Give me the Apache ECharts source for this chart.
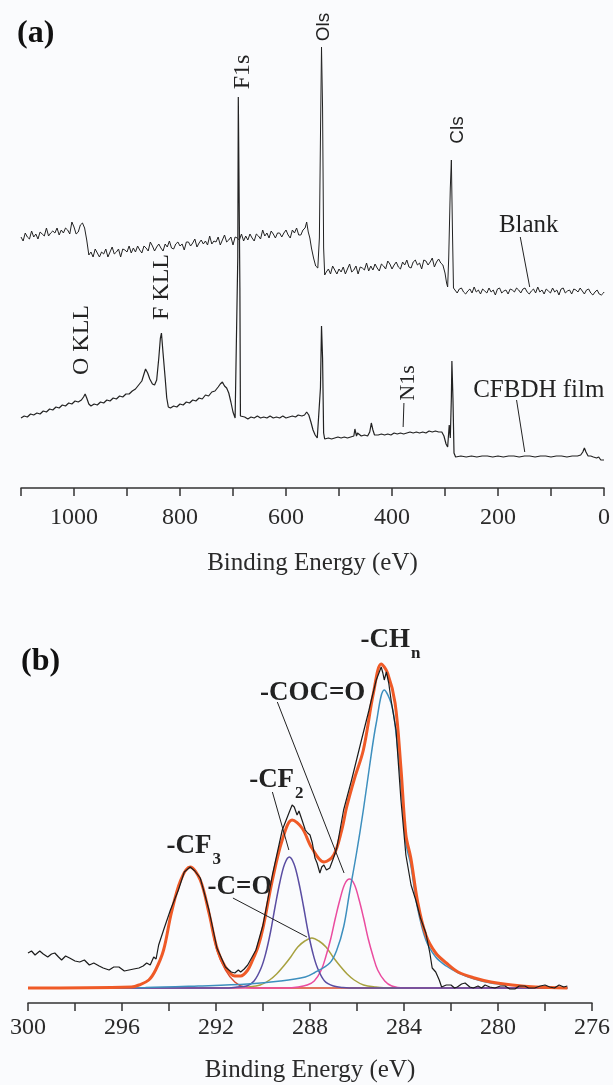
<!DOCTYPE html>
<html><head><meta charset="utf-8">
<script src="https://cdn.jsdelivr.net/npm/echarts@6/dist/echarts.min.js"></script>
<style>html,body{margin:0;padding:0;background:#fafbfd;}#c{width:613px;height:1085px;}</style>
</head><body><div id="c"></div>
<script>
// ---------- DATA (panel a: survey spectra, [binding energy eV, intensity a.u.]) ----------
const surveyTickLabels = [1000, 800, 600, 400, 200, 0];
const blankSpectrum = [[1100,251],[1096,247],[1092,255],[1088,251],[1084,249],[1080,257],[1076,251],[1072,254],[1068,249],[1064,256],[1060,254],[1056,252],[1052,260],[1048,252],[1044,255],[1040,257],[1036,255],[1032,260],[1028,253],[1024,258],[1020,255],[1016,260],[1012,258],[1008,254],[1004,266],[1000,261],[996,254],[992,256],[988,263],[984,265],[980,260],[976,248],[972,233],[968,236],[964,231],[960,239],[956,235],[952,231],[948,236],[944,234],[940,239],[936,231],[932,236],[928,241],[924,234],[920,236],[916,239],[912,231],[908,239],[904,238],[900,236],[896,242],[892,235],[888,240],[884,236],[880,242],[876,238],[872,235],[868,242],[864,240],[860,237],[856,246],[852,242],[848,237],[844,241],[840,244],[836,240],[832,237],[828,244],[824,241],[820,247],[816,240],[812,239],[808,244],[804,246],[800,242],[796,244],[792,238],[788,246],[784,246],[780,242],[776,245],[772,249],[768,241],[764,245],[760,248],[756,244],[752,247],[748,243],[744,252],[740,244],[736,247],[732,246],[728,251],[724,243],[720,248],[716,253],[712,246],[708,248],[704,251],[700,243],[696,251],[692,250],[688,248],[684,254],[680,247],[676,252],[672,248],[668,254],[664,250],[660,247],[656,254],[652,252],[648,249],[644,258],[640,252],[636,255],[632,250],[628,257],[624,254],[620,250],[616,255],[612,255],[608,251],[604,255],[600,258],[596,253],[592,250],[588,258],[584,255],[580,260],[576,253],[572,253],[568,258],[564,260],[561,266],[558,256],[555,250],[552,240],[548,230],[544,222],[540,220],[537,250],[535,350],[533,441],[531,380],[529,240],[527,213],[524,216],[520,219],[516,214],[512,222],[508,218],[504,214],[500,219],[496,216],[492,221],[488,214],[484,219],[480,224],[476,216],[472,218],[468,222],[464,214],[460,221],[456,220],[452,218],[448,225],[444,217],[440,222],[436,218],[432,224],[428,220],[424,217],[420,224],[416,222],[412,219],[408,227],[404,224],[400,219],[396,223],[392,226],[388,221],[384,219],[380,226],[376,223],[372,228],[368,221],[364,220],[360,226],[356,228],[352,223],[348,225],[344,219],[340,228],[336,227],[332,223],[328,226],[324,230],[320,221],[316,226],[312,229],[308,225],[304,223],[300,215],[297,205],[295,201],[293,230],[290,300],[288,328],[286,260],[284,200],[281,198],[277,195],[273,199],[269,200],[265,196],[261,194],[257,197],[253,199],[249,195],[245,201],[241,196],[237,198],[233,194],[229,199],[225,197],[221,195],[217,200],[213,196],[209,198],[205,193],[201,199],[197,200],[193,195],[189,197],[185,198],[181,194],[177,199],[173,198],[169,196],[165,200],[161,198],[157,195],[153,199],[149,200],[145,196],[141,194],[137,197],[133,199],[129,195],[125,201],[121,196],[117,198],[113,194],[109,199],[105,197],[101,195],[97,200],[93,196],[89,198],[85,193],[81,199],[77,200],[73,195],[69,197],[65,198],[61,194],[57,199],[53,198],[49,196],[45,200],[41,197],[37,194],[33,198],[29,199],[25,195],[21,193],[17,196],[13,198],[9,194],[5,193],[1,195],[0,196]];
const filmSpectrum = [[1100,70],[1094,72],[1088,71],[1082,74],[1076,73],[1070,75],[1064,74],[1058,77],[1052,76],[1046,79],[1040,78],[1034,81],[1028,80],[1022,83],[1016,82],[1010,85],[1004,84],[998,87],[992,86],[986,88],[982,91],[979,94],[976,90],[972,84],[968,82],[962,84],[956,83],[950,86],[944,85],[938,88],[932,87],[926,90],[920,89],[914,92],[908,91],[902,94],[896,94],[890,97],[884,99],[878,103],[872,107],[868,114],[865,119],[861,115],[857,109],[852,104],[848,103],[844,108],[840,130],[837,150],[835,155],[832,135],[828,110],[825,90],[822,81],[818,80],[812,82],[806,81],[800,84],[794,83],[788,86],[782,85],[776,88],[770,87],[764,90],[758,89],[752,93],[746,92],[740,96],[734,97],[728,101],[724,104],[720,106],[716,102],[712,100],[708,95],[704,86],[700,76],[696,70],[693,72],[691,230],[690,391],[689,391],[687,200],[686,72],[684,70],[678,71],[672,69],[666,71],[660,70],[654,72],[648,70],[642,71],[636,70],[630,72],[624,70],[618,71],[612,70],[606,72],[600,70],[594,71],[588,72],[582,71],[577,73],[570,72],[565,73],[561,76],[557,73],[553,66],[549,58],[545,53],[541,50],[538,52],[535,100],[533,162],[531,130],[529,55],[527,49],[520,50],[514,49],[508,50],[502,51],[496,50],[490,51],[484,50],[478,51],[472,52],[470,59],[467,52],[465,55],[462,53],[458,52],[452,53],[446,52],[442,56],[439,65],[436,58],[433,53],[426,53],[420,54],[414,53],[408,54],[402,53],[396,55],[390,54],[384,55],[378,54],[372,55],[366,56],[360,55],[354,56],[348,55],[342,56],[336,55],[330,57],[324,56],[318,57],[312,56],[306,56],[302,52],[298,44],[295,41],[292,63],[290,50],[288,90],[287,127],[285,90],[283,35],[280,31],[270,32],[260,31],[250,32],[240,31],[230,32],[220,32],[210,31],[200,32],[190,31],[180,32],[170,32],[160,31],[150,32],[140,32],[130,31],[120,32],[110,32],[100,31],[90,32],[80,32],[70,31],[60,32],[50,32],[44,33],[40,36],[37,40],[34,36],[30,32],[25,32],[20,31],[14,30],[10,31],[6,28],[0,28]];

// ---------- DATA (panel b: C1s high-resolution spectrum and fitted components) ----------
const c1sTickLabels = [300, 296, 292, 288, 284, 280, 276];
const c1sRaw = [[300.0,50],[299.85,52],[299.7,48],[299.5,52],[299.35,49],[299.16,46],[299.0,49],[298.86,50],[298.7,46],[298.57,43],[298.4,47],[298.23,45],[298.0,42],[297.8,41],[297.6,43],[297.39,38],[297.2,40],[296.97,37],[296.8,35],[296.55,33],[296.35,36],[296.13,36],[295.9,32],[295.7,33],[295.5,34],[295.28,35],[295.1,37],[294.95,40],[294.8,38],[294.65,46],[294.55,44],[294.44,58],[294.23,73],[293.94,93],[293.6,113],[293.35,131],[293.1,136],[292.9,132],[292.67,125],[292.3,93],[291.96,55],[291.6,36],[291.35,31],[291.2,30],[291.05,33],[290.95,31],[290.8,34],[290.65,38],[290.3,53],[290.0,78],[289.6,128],[289.18,173],[288.88,191],[288.76,198],[288.67,196],[288.55,188],[288.47,192],[288.34,183],[288.2,173],[288.1,170],[288.0,168],[287.9,160],[287.79,145],[287.7,140],[287.58,130],[287.5,136],[287.41,138],[287.3,133],[287.16,135],[287.0,145],[286.86,155],[286.57,193],[286.23,223],[285.81,263],[285.5,292],[285.39,303],[285.18,323],[284.97,336],[284.9,330],[284.84,323],[284.75,331],[284.65,320],[284.55,303],[284.34,273],[284.13,203],[283.92,148],[283.7,118],[283.5,103],[283.3,85],[283.07,70],[282.9,50],[282.8,35],[282.65,31],[282.5,23],[282.4,16],[282.2,18],[282.0,18],[281.85,15],[281.73,16],[281.55,19],[281.4,20],[281.2,16],[281.05,15],[280.85,17],[280.7,15],[280.55,18],[280.35,16],[280.13,15],[279.9,17],[279.7,17],[279.5,14],[279.28,14],[279.1,17],[278.86,17],[278.7,15],[278.44,15],[278.2,17],[278.0,18],[277.8,16],[277.6,15],[277.4,18],[277.2,16],[277.05,17]];
const fitEnvelope = [[300,15],[295.6,16],[295.28,18],[294.86,23],[294.57,33],[294.23,53],[293.9,90],[293.5,123],[293.1,136],[292.67,123],[292.3,90],[291.96,55],[291.6,36],[291.2,27],[290.95,27],[290.65,33],[290.44,43],[290.2,57],[290.0,75],[289.6,123],[289.18,163],[288.76,183],[288.34,175],[287.92,155],[287.4,141],[286.99,148],[286.65,173],[286.44,196],[286.1,225],[285.73,253],[285.3,310],[284.97,339],[284.7,330],[284.38,300],[284.13,235],[283.92,168],[283.71,145],[283.41,100],[283.07,68],[282.65,50],[282.2,40],[281.7,31],[281.0,25],[280.3,21],[279.4,18],[278.4,16],[277.05,15]];
const compCF3 = [[300,15],[295.6,15],[295.28,18],[294.86,23],[294.57,33],[294.23,53],[293.9,90],[293.5,123],[293.1,136],[292.67,123],[292.3,90],[291.96,53],[291.6,33],[291.2,21],[290.8,16],[290.2,15],[277.05,15]];
const compCF2 = [[300,15],[291.6,15],[291.1,16],[290.7,17],[290.38,22],[290.08,35],[289.88,50],[289.68,71],[289.48,97],[289.28,121],[289.08,139],[288.88,146],[288.68,139],[288.48,121],[288.28,97],[288.08,71],[287.88,50],[287.68,35],[287.38,22],[287.0,17],[286.6,15.5],[286.0,15],[277.05,15]];
const compCO = [[300,15],[291.2,15],[290.7,16],[290.12,18],[289.72,23],[289.42,29],[289.12,37],[288.82,46],[288.52,56],[288.22,62],[287.92,65],[287.62,62],[287.32,56],[287.02,46],[286.72,37],[286.42,29],[286.12,23],[285.72,18],[285.2,16],[284.6,15],[277.05,15]];
const compCOCO = [[300,15],[289.0,15],[288.5,16],[288.12,18],[287.82,22],[287.52,33],[287.32,47],[287.12,64],[286.92,85],[286.72,104],[286.52,119],[286.32,124],[286.12,119],[285.92,104],[285.72,85],[285.52,64],[285.32,47],[285.12,33],[284.82,22],[284.52,17],[284.0,15],[277.05,15]];
const compCHn = [[300,15],[295,15.5],[292.76,17],[290.65,19],[289.26,22],[288.2,26],[287.83,30],[287.16,40],[286.86,53],[286.57,76],[286.32,110],[286.02,150],[285.73,193],[285.47,236],[285.18,280],[284.84,313],[284.55,300],[284.38,278],[284.13,220],[283.92,160],[283.71,138],[283.45,98],[283.07,63],[282.65,46],[282.2,37],[281.68,30],[281.0,24],[280.3,20],[279.4,18],[278.4,16],[277.05,15]];

// ---------- STYLE / LAYOUT ----------
const SERIF = 'Liberation Serif';
const SANS = 'Liberation Sans';
const INK = '#222';
const chart = echarts.init(document.getElementById('c'), null, {renderer: 'canvas'});

function line(data, xi, color, width, smooth, z, extra) {
  return Object.assign({
    type: 'line', xAxisIndex: xi, yAxisIndex: xi, data: data, showSymbol: false, symbol: 'none',
    smooth: smooth, lineStyle: {color: color, width: width}, z: z, silent: true, animation: false
  }, extra || {});
}
function arrows(list) {
  return {
    silent: true, animation: false, symbol: ['none', 'arrow'], symbolSize: [0, 9],
    lineStyle: {color: INK, width: 1, type: 'solid'}, label: {show: false},
    data: list.map(a => [{coord: a[0]}, {coord: a[1]}])
  };
}
function xAxis(gi, min, max, step, labels, gap, margin) {
  return {
    type: 'value', gridIndex: gi, min: min, max: max, inverse: true, interval: step,
    axisLine: {show: true, onZero: false, lineStyle: {color: '#333', width: 1.5}},
    axisTick: {show: true, length: 8, lineStyle: {color: '#333', width: 1.5}},
    splitLine: {show: false},
    axisLabel: {margin: margin, color: '#2a2a2a', fontFamily: SERIF, fontSize: 24, showMinLabel: true, showMaxLabel: true,
      formatter: v => labels.indexOf(Math.round(v)) >= 0 ? String(Math.round(v)) : ''},
    name: 'Binding Energy (eV)', nameLocation: 'middle', nameGap: gap,
    nameTextStyle: {color: '#2a2a2a', fontFamily: SERIF, fontSize: 25}
  };
}

chart.setOption({
  backgroundColor: '#fafbfd',
  animation: false,
  textStyle: {fontFamily: SERIF},
  grid: [
    {left: 21, right: 3, top: 8, height: 480},
    {left: 28, right: 15, top: 653, height: 350}
  ],
  xAxis: [xAxis(0, 0, 1100, 100, surveyTickLabels, 63, 18), xAxis(1, 276, 300, 2, c1sTickLabels, 55, 13)],
  yAxis: [
    {type: 'value', gridIndex: 0, min: 0, max: 480, show: false},
    {type: 'value', gridIndex: 1, min: 0, max: 350, show: false}
  ],
  series: [
    line(blankSpectrum, 0, INK, 1, false, 3, {markLine: arrows([[[158, 251], [140.2, 201]]])}),
    line(filmSpectrum, 0, INK, 1.2, false, 3, {markLine: arrows([[[165, 88], [149.5, 36]], [[377.5, 85], [379, 61]]])}),
    line(compCF3, 1, '#d9482b', 1.5, 0.35, 2),
    line(compCO, 1, '#a7a13f', 1.5, 0.35, 2),
    line(compCOCO, 1, '#ea4c9f', 1.5, 0.35, 2),
    line(compCF2, 1, '#5a4da2', 1.5, 0.35, 2),
    line(compCHn, 1, '#3d8fbe', 1.5, 0.35, 3),
    line(fitEnvelope, 1, '#ef5a27', 3, 0.35, 4),
    line(c1sRaw, 1, '#1b1b1b', 1.2, false, 5, {markLine: arrows([
      [[289.6, 211], [288.9, 153]],
      [[291.28, 105], [288.13, 66]],
      [[289.39, 301], [286.55, 130]]
    ])})
  ]
});

// ---------- ANNOTATIONS (anchored in data coordinates) ----------
const surveyLabels = [
  {t: 'F1s', at: [681.7, 416], font: SERIF, size: 24, rot: true},
  {t: 'Ols', at: [528, 461], font: SANS, size: 19, rot: true},
  {t: 'Cls', at: [276, 358], font: SANS, size: 19, rot: true},
  {t: 'O KLL', at: [986, 148], font: SERIF, size: 24, rot: true},
  {t: 'F KLL', at: [835, 201], font: SERIF, size: 24, rot: true},
  {t: 'N1s', at: [370, 105], font: SERIF, size: 22, rot: true},
  {t: 'Blank', at: [142, 263], font: SERIF, size: 25, rot: false},
  {t: 'CFBDH film', at: [123, 98], font: SERIF, size: 25, rot: false}
];
const c1sLabels = [
  {t: '-CF', sub: '3', at: [294.11, 157]},
  {t: '-CF', sub: '2', at: [290.59, 223]},
  {t: '-C=O', sub: '', at: [292.36, 116]},
  {t: '-COC=O', sub: '', at: [290.13, 310]},
  {t: '-CH', sub: 'n', at: [285.85, 363]}
];

const ctx = document.createElement('canvas').getContext('2d');
function textWidth(str, font) { ctx.font = font; return ctx.measureText(str).width; }
const q = f => '"' + f + '"';

const graphics = [];
graphics.push({type: 'text', x: 17, y: 34, style: {text: '(a)', font: 'bold 32px ' + q(SERIF), fill: '#111', align: 'left', verticalAlign: 'middle'}});
graphics.push({type: 'text', x: 21, y: 662, style: {text: '(b)', font: 'bold 32px ' + q(SERIF), fill: '#111', align: 'left', verticalAlign: 'middle'}});
surveyLabels.forEach(l => {
  const p = chart.convertToPixel({seriesIndex: 0}, l.at);
  graphics.push({type: 'text', x: p[0], y: p[1], rotation: l.rot ? Math.PI / 2 : 0,
    style: {text: l.t, font: l.size + 'px ' + q(l.font), fill: INK, align: 'center', verticalAlign: 'middle'}});
});
c1sLabels.forEach(l => {
  const p = chart.convertToPixel({seriesIndex: 8}, l.at);
  const f = 'bold 27px ' + q(SERIF);
  graphics.push({type: 'text', x: p[0], y: p[1], style: {text: l.t, font: f, fill: INK, align: 'left', verticalAlign: 'middle'}});
  if (l.sub) {
    const w = textWidth(l.t, f);
    graphics.push({type: 'text', x: p[0] + w + 1, y: p[1] + 14, style: {text: l.sub, font: 'bold 17px ' + q(SERIF), fill: INK, align: 'left', verticalAlign: 'middle'}});
  }
});
chart.setOption({graphic: graphics});
</script>
</body></html>
